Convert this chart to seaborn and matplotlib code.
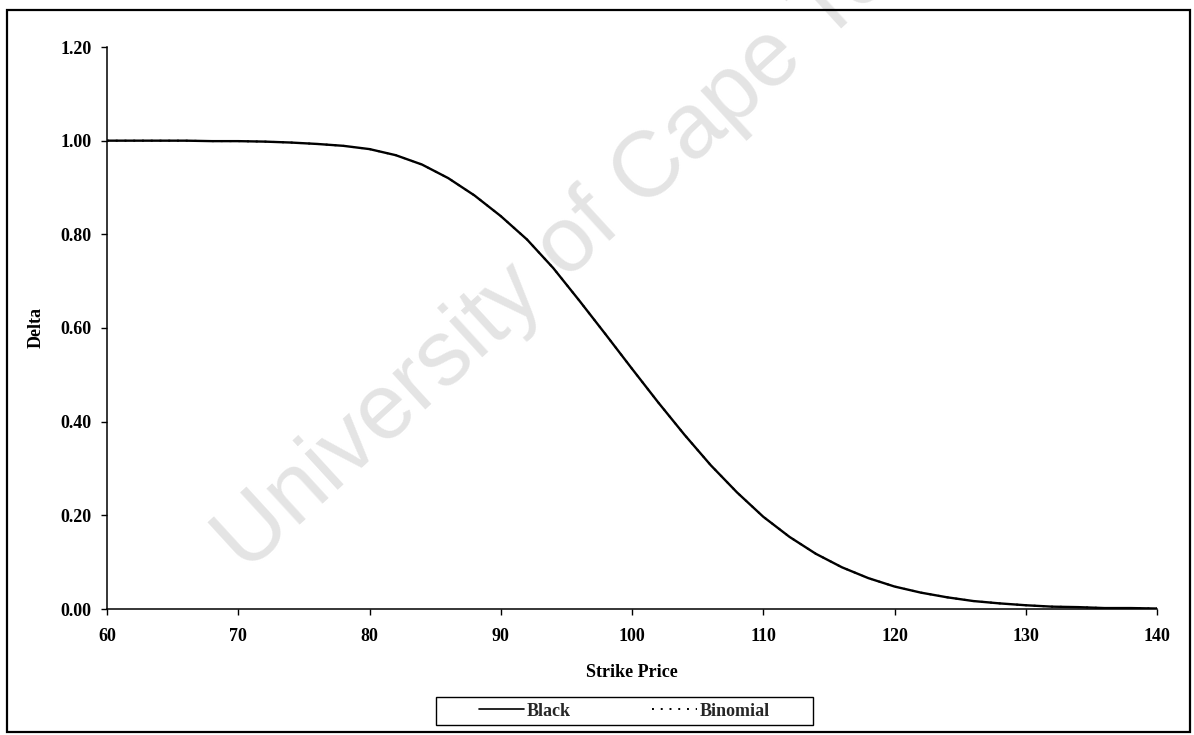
import matplotlib
matplotlib.use("Agg")
import matplotlib.pyplot as plt
import seaborn as sns
import pandas as pd
from matplotlib.patches import Rectangle
from matplotlib.lines import Line2D

# ---- data ----
strike = [60, 62, 64, 66, 68, 70, 72, 74, 76, 78, 80, 82, 84, 86, 88, 90,
          92, 94, 96, 98, 100, 102, 104, 106, 108, 110, 112, 114, 116, 118,
          120, 122, 124, 126, 128, 130, 132, 134, 136, 138, 140]
black_delta = [1.000, 1.000, 1.000, 1.000, 0.999, 0.999, 0.998, 0.996, 0.993,
               0.989, 0.982, 0.969, 0.949, 0.920, 0.883, 0.839, 0.789, 0.728,
               0.658, 0.586, 0.513, 0.441, 0.372, 0.307, 0.249, 0.197, 0.154,
               0.118, 0.089, 0.066, 0.048, 0.035, 0.025, 0.017, 0.012, 0.008,
               0.005, 0.004, 0.002, 0.002, 0.001]
binomial_delta = [1.000, 1.000, 1.000, 1.000, 0.999, 0.999, 0.998, 0.996, 0.993,
                  0.989, 0.982, 0.969, 0.949, 0.920, 0.883, 0.839, 0.789, 0.728,
                  0.658, 0.586, 0.513, 0.441, 0.372, 0.307, 0.249, 0.197, 0.154,
                  0.118, 0.089, 0.066, 0.048, 0.035, 0.025, 0.017, 0.012, 0.008,
                  0.005, 0.004, 0.002, 0.002, 0.001]
x_ticks = [60, 70, 80, 90, 100, 110, 120, 130, 140]
y_ticks = [0.0, 0.2, 0.4, 0.6, 0.8, 1.0, 1.2]
y_tick_labels = ["0.00", "0.20", "0.40", "0.60", "0.80", "1.00", "1.20"]
series_names = ["Black", "Binomial"]
x_label = "Strike Price"
y_label = "Delta"
watermark = "University of Cape Town"

W, H = 1194, 735

# ---- styling ----
sns.set_theme(style="white")
plt.rcParams['font.family'] = ['Liberation Serif', 'DejaVu Serif']
plt.rcParams['font.weight'] = 'bold'

fig = plt.figure(figsize=(W / 100, H / 100), dpi=100)
fig.patch.set_facecolor("white")

# watermark behind everything
fig.text(246 / W, (H - 574) / H, watermark, rotation=42.5,
         rotation_mode='anchor', ha='left', va='baseline', fontsize=67,
         family=['Liberation Sans', 'DejaVu Sans'], fontweight='normal',
         color='#e4e4e4', zorder=-1)

ax = fig.add_axes([107 / W, (H - 609) / H, 1050 / W, 562 / H])
ax.patch.set_alpha(0)

df_bin = pd.DataFrame({"strike": strike, "delta": binomial_delta})
df_blk = pd.DataFrame({"strike": strike, "delta": black_delta})
sns.lineplot(data=df_bin, x="strike", y="delta", ax=ax, color="black",
             linewidth=1.4, linestyle=(0, (1, 3.5)), zorder=2)
sns.lineplot(data=df_blk, x="strike", y="delta", ax=ax, color="black",
             linewidth=1.7, zorder=3)

ax.set_xlim(60, 140)
ax.set_ylim(0, 1.2)
ax.set_xticks(x_ticks)
ax.set_xticklabels([str(t) for t in x_ticks])
ax.set_yticks(y_ticks)
ax.set_yticklabels(y_tick_labels)

for side in ["top", "right"]:
    ax.spines[side].set_visible(False)
for side in ["left", "bottom"]:
    ax.spines[side].set_color("black")
    ax.spines[side].set_linewidth(1.1)

ax.tick_params(axis='both', which='major', direction='out', length=4,
               width=1.0, color='black', labelsize=13, labelcolor='black')
ax.tick_params(axis='y', pad=7)
ax.tick_params(axis='x', pad=10)
ax.xaxis.set_ticks_position('bottom')
ax.yaxis.set_ticks_position('left')

ax.set_xlabel(x_label, fontsize=13, fontweight='bold', color='black')
ax.set_ylabel(y_label, fontsize=13, fontweight='bold', color='black')
ax.xaxis.set_label_coords(0.5, (609 - 664) / 562)
ax.yaxis.set_label_coords((45 - 107) / 1050, 0.5)

# legend (frame drawn separately to match the wide box)
handles = [Line2D([0], [0], color='black', linewidth=1.2),
           Line2D([0], [0], color='black', linewidth=1.4, linestyle=(0, (1, 3.5)))]
leg = fig.legend(handles, series_names, loc='center',
                 bbox_to_anchor=(624.5 / W, (H - 711) / H), ncol=2,
                 frameon=False, fontsize=13,
                 handlelength=2.5, handletextpad=0.15, columnspacing=4.5,
                 borderpad=0.2, borderaxespad=0)
fig.patches.append(Rectangle((436 / W, (H - 725) / H), 377 / W, 28 / H,
                             transform=fig.transFigure, fill=True,
                             facecolor='white', edgecolor='black',
                             linewidth=1.0, zorder=1))

# outer border
fig.patches.append(Rectangle((7 / W, 3 / H), 1183 / W, 722 / H,
                             transform=fig.transFigure, fill=False,
                             edgecolor='black', linewidth=1.6))

fig.savefig("out.png", dpi=100)
